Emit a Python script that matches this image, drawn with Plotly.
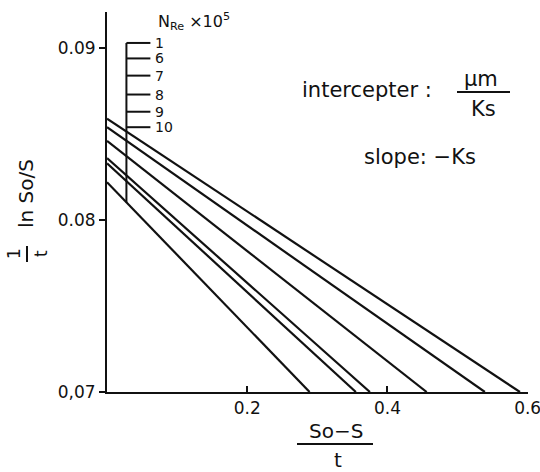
import plotly.graph_objects as go

# Lines of (1/t) ln So/S against (So-S)/t, one per Reynolds number
n_re_labels = ["1", "6", "7", "8", "9", "10"]
y_intercepts = [0.0859, 0.0854, 0.0846, 0.0836, 0.0833, 0.0822]
x_at_bottom = [0.589, 0.539, 0.456, 0.375, 0.355, 0.289]
y_floor = 0.07

# Key bracket: tick heights on the vertical guide
key_levels = [0.0903, 0.0894, 0.0884, 0.0873, 0.0863, 0.0854]
key_x0, key_x1 = 0.0277, 0.0619

x_ticks = [0.2, 0.4, 0.6]
x_tick_text = ["0.2", "0.4", "0.6"]
y_ticks = [0.07, 0.08, 0.09]
y_tick_text = ["0,07", "0.08", "0.09"]

W, H = 540, 472
ML, MR, MT, MB = 107, 12, 12, 80
PW, PH = W - ML - MR, H - MT - MB
INK = "#111111"
FONT = "DejaVu Sans"


def px(x):
    return (x - ML) / PW


def py(y):
    return 1 - (y - MT) / PH


def label(x, y, text, size=20, xanchor="center", angle=0):
    return dict(x=px(x), y=py(y), xref="paper", yref="paper", text=text,
                showarrow=False, xanchor=xanchor, yanchor="middle",
                textangle=angle, font=dict(size=size, color=INK, family=FONT))


def rule(x0, y0, x1, y1):
    return dict(type="line", xref="paper", yref="paper", x0=px(x0), x1=px(x1),
                y0=py(y0), y1=py(y1), line=dict(color=INK, width=2))


fig = go.Figure()
for lab, b, xe in zip(n_re_labels, y_intercepts, x_at_bottom):
    fig.add_trace(go.Scatter(
        x=[0, xe], y=[b, y_floor], mode="lines",
        line=dict(color=INK, width=2.2), name=lab, showlegend=False,
        hoverinfo="skip"))

# lowest line value at the guide position sets the bottom of the bracket
lo_b, lo_x = y_intercepts[-1], x_at_bottom[-1]
guide_bottom = lo_b + (y_floor - lo_b) / lo_x * key_x0

shapes = [dict(type="line", xref="x", yref="y", x0=key_x0, x1=key_x0,
               y0=guide_bottom, y1=key_levels[0],
               line=dict(color=INK, width=2))]
annotations = []
for lab, lv in zip(n_re_labels, key_levels):
    shapes.append(dict(type="line", xref="x", yref="y", x0=key_x0, x1=key_x1,
                       y0=lv, y1=lv, line=dict(color=INK, width=2)))
    annotations.append(dict(x=key_x1 + 0.004, y=lv, xref="x", yref="y",
                            text=lab, showarrow=False, xanchor="left",
                            yanchor="middle",
                            font=dict(size=14, color=INK, family=FONT)))

annotations.append(label(156, 22, "N<sub>Re</sub> ×10<sup>5</sup>", size=16,
                         xanchor="left"))

# text block on the right
annotations += [
    label(434, 90, "intercepter :", size=21, xanchor="right"),
    label(481, 79, "μm", size=21),
    label(483, 109, "Ks", size=21),
    label(362, 157, "slope: −Ks", size=21, xanchor="left"),
]
shapes.append(rule(457, 92, 510, 92))

# x-axis title as a fraction
annotations += [label(336, 431, "So−S"), label(338, 460, "t")]
shapes.append(rule(297, 444, 373, 444))

# y-axis title: (1/t) ln So/S, rotated
annotations += [
    label(26, 194, "ln So/S", angle=-90),
    label(14, 254, "1", size=17, angle=-90),
    label(41, 254, "t", size=17, angle=-90),
]
shapes.append(rule(27, 246, 27, 262))

fig.update_layout(
    width=W, height=H, margin=dict(l=ML, r=MR, t=MT, b=MB),
    paper_bgcolor="white", plot_bgcolor="white",
    shapes=shapes, annotations=annotations,
    font=dict(family=FONT, color=INK, size=16),
)
fig.update_xaxes(range=[0, 0.6005], tickvals=x_ticks, ticktext=x_tick_text,
                 ticks="inside", ticklen=6, tickwidth=2, tickcolor=INK,
                 ticklabeloverflow="allow", automargin=False,
                 showline=True, linecolor=INK, linewidth=2, showgrid=False,
                 zeroline=False, tickfont=dict(size=17, color=INK, family=FONT))
fig.update_yaxes(range=[0.07, 0.0921], tickvals=y_ticks, ticktext=y_tick_text,
                 ticks="outside", ticklen=6, tickwidth=2, tickcolor=INK,
                 automargin=False,
                 showline=True, linecolor=INK, linewidth=2, showgrid=False,
                 zeroline=False, tickfont=dict(size=17, color=INK, family=FONT))

fig.write_html("out.html")
